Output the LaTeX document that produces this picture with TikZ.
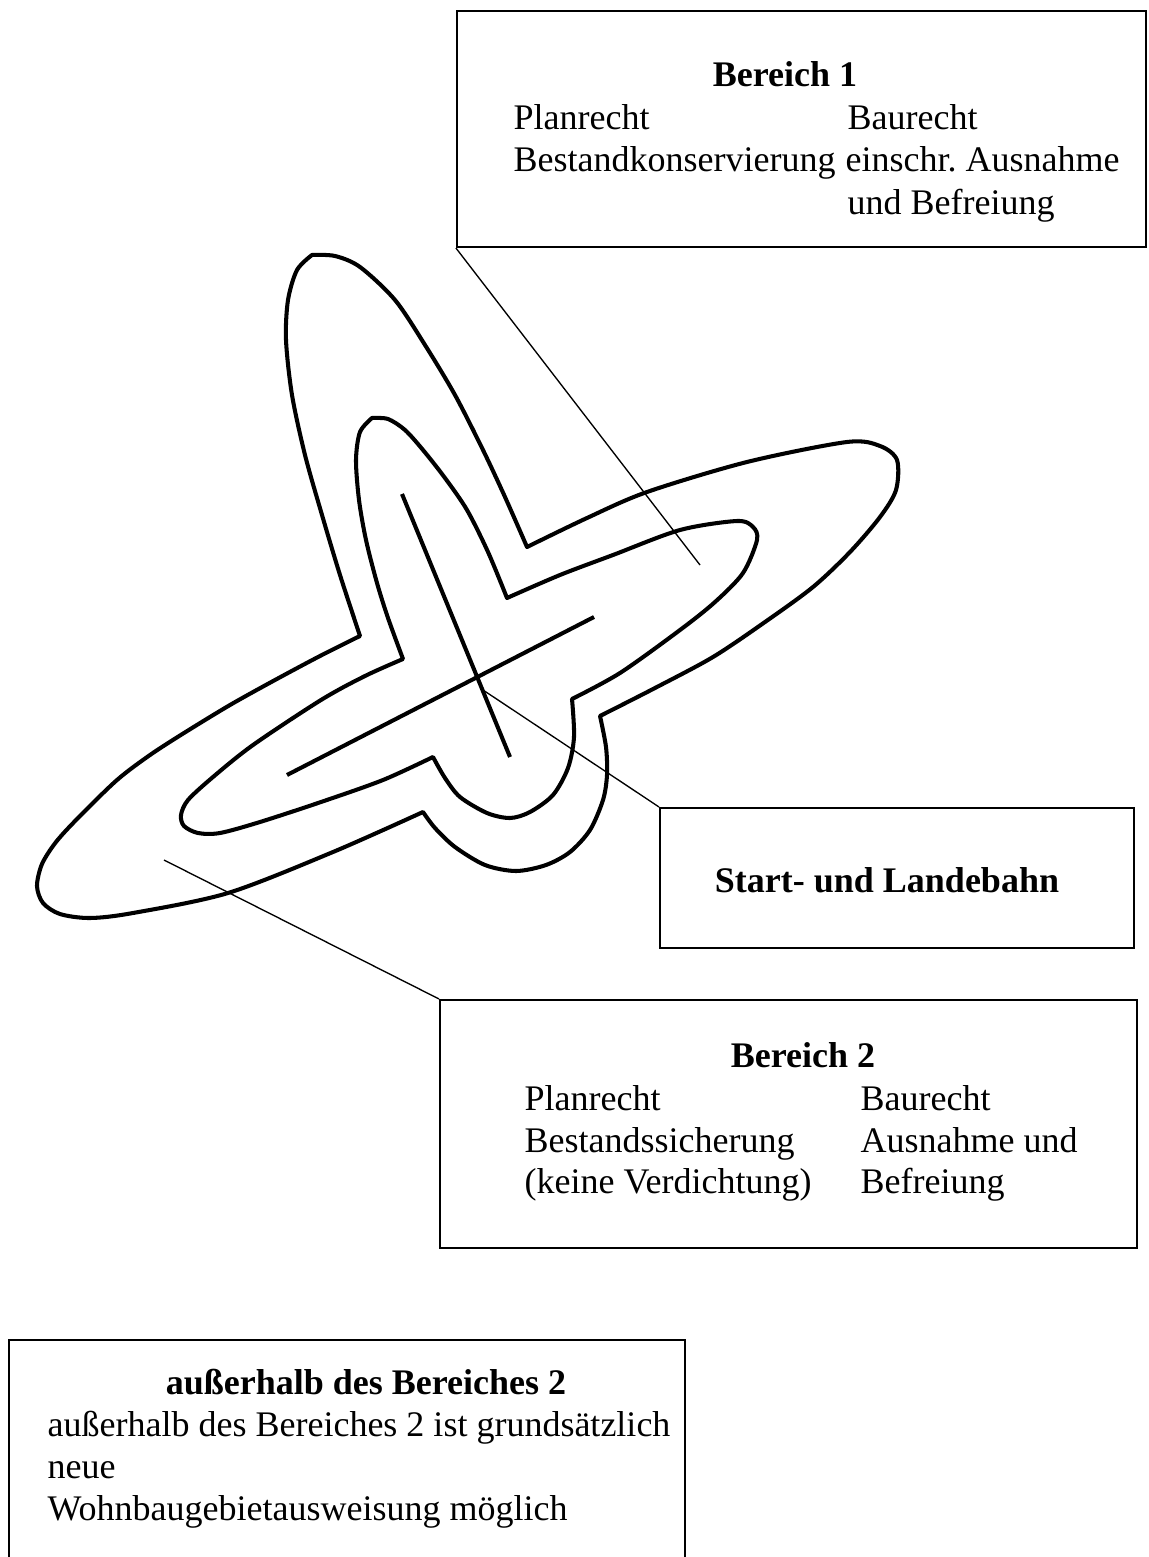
\documentclass[tikz,border=0pt]{standalone}
\usepackage{fontspec}
\setmainfont{Liberation Serif}
\frenchspacing
\begin{document}
\begin{tikzpicture}[x={(0.33333pt,0)}, y={(0,-0.33333pt)},
  outline/.style={line width=1.35pt, line join=round, line cap=round},
  runway/.style={line width=1.35pt},
  frame/.style={draw, line width=0.7pt, inner sep=0pt},
  leader/.style={line width=0.45pt},
  txt/.style={font=\fontsize{12}{14.3}\selectfont, inner sep=0pt, anchor=base west},
  head/.style={font=\fontsize{12}{14.3}\selectfont\bfseries, inner sep=0pt, anchor=base},
]
\useasboundingbox (0,0) rectangle (1148,1557);
\fill[white] (0,0) rectangle (1148,1557);

% outer zone (Bereich 2)
\draw[outline]
  plot[smooth] coordinates {(312,255) (335,256) (360,267) (395,300) (425,345) (455,395) (483,450) (505,497) (527,547)}
  -- plot[smooth] coordinates {(527,547) (587,518) (647,492) (747,462) (847,442) (880,446) (897,460) (896,490) (880,517) (850,552) (813,587) (765,622) (713,657) (655,688) (600,716)}
  -- plot[smooth] coordinates {(600,716) (606,747) (607,775) (603,800) (590,830) (570,852) (546,865) (516,871) (485,865) (455,847) (435,828) (423,812)}
  -- plot[smooth] coordinates {(423,812) (333,852) (228,893) (133,913) (90,918) (60,914) (43,903) (37,886) (42,864) (56,842) (78,818) (117,780) (150,755) (184,733) (230,705) (275,680) (320,656) (360,636)}
  -- plot[smooth] coordinates {(360,636) (340,575) (322,515) (305,455) (292,395) (286,340) (288,300) (297,270) (312,255)}
  -- cycle;

% inner zone (Bereich 1)
\draw[outline]
  plot[smooth] coordinates {(372,418) (388,419) (405,430) (423,450) (445,478) (467,510) (488,552) (507,598)}
  -- plot[smooth] coordinates {(507,598) (560,575) (613,555) (680,530) (737,521) (753,527) (757,540) (743,573) (715,602) (680,630) (620,673) (572,699)}
  -- plot[smooth] coordinates {(572,699) (574,737) (568,768) (553,795) (530,812) (510,818) (487,813) (460,797) (445,778) (433,757)}
  -- plot[smooth] coordinates {(433,757) (383,780) (321,802) (260,822) (220,833) (198,833) (184,826) (181,815) (188,800) (213,777) (253,745) (321,700) (365,676) (403,659)}
  -- plot[smooth] coordinates {(403,659) (388,618) (377,583) (366,540) (359,500) (356,460) (360,432) (372,418)}
  -- cycle;

% runways
\coordinate (ra1) at (402,494);
\coordinate (ra2) at (510,757);
\coordinate (rb1) at (287,775);
\coordinate (rb2) at (594,617);
\draw[runway] (ra1) -- (ra2);
\draw[runway] (rb1) -- (rb2);

% Bereich 1
\node[frame, minimum width=229.67pt, minimum height=78.67pt] (b1) at (801.5,129) {};
\node[head] (b1h) at (785,87) {Bereich 1};
\node[txt] (b1a) at (513,130) {Planrecht};
\node[txt] (b1b) at (847,130) {Baurecht};
\node[txt] (b1c) at (513,172) {Bestandkonservierung};
\node[txt] (b1d) at (845,172) {einschr. Ausnahme};
\node[txt] (b1e) at (847,215) {und Befreiung};

% Start- und Landebahn
\node[frame, minimum width=158pt, minimum height=46.67pt] (sl) at (897,878) {};
\node[head] (slh) at (887,892) {Start- und Landebahn};

% Bereich 2
\node[frame, minimum width=232.33pt, minimum height=82.67pt] (b2) at (788.5,1124) {};
\node[head] (b2h) at (803,1067) {Bereich 2};
\node[txt] (b2a) at (524,1110) {Planrecht};
\node[txt] (b2b) at (860,1110) {Baurecht};
\node[txt] (b2c) at (524,1152) {Bestandssicherung};
\node[txt] (b2d) at (860,1152) {Ausnahme und};
\node[txt] (b2e) at (524,1193) {(keine Verdichtung)};
\node[txt] (b2f) at (860,1193) {Befreiung};

% outside of Bereich 2 (frame runs off the page)
\coordinate (ol) at (9,1557);
\coordinate (ot) at (9,1340);
\coordinate (or) at (685,1340);
\coordinate (ob) at (685,1557);
\draw[line width=0.7pt] (ol) -- (ot) -- (or) -- (ob);
\node[head] (oh) at (366,1394) {außerhalb des Bereiches 2};
\node[txt] (oa) at (47,1436) {außerhalb des Bereiches 2 ist grundsätzlich};
\node[txt] (ob1) at (47,1478) {neue};
\node[txt] (oc) at (47,1520) {Wohnbaugebietausweisung möglich};

% leader lines
\coordinate (p1) at (700,565);
\coordinate (p2) at (483,690);
\coordinate (p3) at (164,860);
\draw[leader] (b1.south west) -- (p1);
\draw[leader] (sl.north west) -- (p2);
\draw[leader] (b2.north west) -- (p3);
\end{tikzpicture}
\end{document}
